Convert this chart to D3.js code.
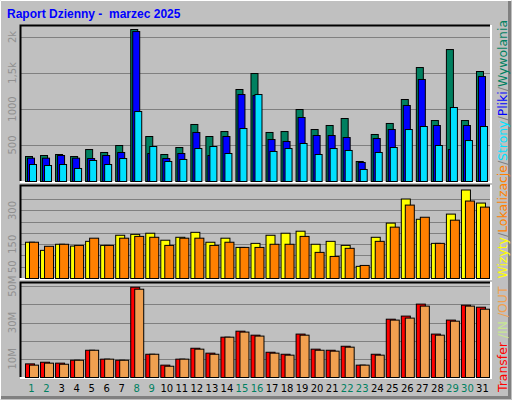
<!DOCTYPE html>
<html><head><meta charset="utf-8">
<script src="https://cdn.jsdelivr.net/npm/d3@7"></script>
<style>body{margin:0;background:#fff}svg{display:block}</style>
</head><body>
<svg id="c" width="512" height="400"></svg>
<script>
const days = d3.range(1, 32);
const weekend = [1,2,8,9,15,16,22,23,29,30];
const hits  = [347,361,375,347,444,403,500,2111,625,375,472,792,625,694,1278,1500,681,694,1000,722,778,875,278,653,806,1139,1583,847,1833,847,1528];
const files = [324,324,361,324,319,361,403,2083,389,319,389,681,361,625,1208,1194,583,556,889,639,639,611,264,597,722,1056,1417,778,444,778,1458];
const pages = [236,222,236,181,292,236,319,972,486,278,306,458,486,389,736,1208,417,458,528,375,458,431,167,403,472,722,764,500,1028,569,764];
const visits= [161,125,152,144,165,147,192,196,201,170,183,205,161,179,138,156,192,201,210,152,165,147,54,183,246,353,263,156,286,393,335];
const sites = [161,143,152,147,179,147,179,187,183,147,179,179,147,161,138,138,152,152,187,116,98,134,58,165,228,326,272,156,259,344,317];
const kIn   = [7.5,8.4,7.9,9.5,15.0,10.1,9.5,49.7,12.8,6.8,10.1,16.1,13.4,22.2,25.5,23.3,13.9,12.8,23.9,15.6,15.0,17.2,6.8,12.8,32.1,33.8,40.4,23.9,31.6,39.8,38.7];
const kOut  = [6.8,7.9,7.3,9.5,15.0,10.1,9.5,48.6,12.8,6.2,10.1,15.6,12.8,22.2,25.0,22.8,13.4,12.3,23.3,15.0,14.5,16.7,6.8,12.3,31.6,32.7,39.3,23.3,31.0,39.3,37.6];
const topTicks = [[500,"500"],[1000,"1000"],[1500,"1,5k"],[2000,"2k"]];
const midTicks = [[50,"50"],[150,"150"],[300,"300"]];
const botTicks = [[10,"10M"],[30,"30M"],[50,"50M"]];

const svg = d3.select("#c");
svg.append("rect").attr("width",512).attr("height",400).attr("fill","#c0c0c0");
svg.append("path").attr("d","M0.5,399.5V0.5H511.5").attr("stroke","#fff").attr("fill","none");
svg.append("path").attr("d","M1,397.5H509.5V1").attr("stroke","#808080").attr("stroke-width",3).attr("fill","none");
svg.append("text").attr("x",7).attr("y",18).attr("xml:space","preserve").style("white-space","pre").text("Raport Dzienny -  marzec 2025")
  .attr("font-family","Liberation Sans, Arial, sans-serif").attr("font-weight","bold").attr("font-size",12).attr("fill","#0000ff");

const x = d3.scaleBand().domain(days).range([24,490]).paddingInner(0);
const L=20,R=490;
function panel(y0,y1,max,grid,ticks){
  const y = d3.scaleLinear().domain([0,max]).range([y1,y0]);
  svg.append("rect").attr("x",L).attr("y",y0).attr("width",R-L).attr("height",y1-y0).attr("fill","#c0c0c0");
  svg.append("g").selectAll("line").data(grid).join("line")
    .attr("x1",L).attr("x2",R).attr("y1",d=>Math.round(y(d))+0.5).attr("y2",d=>Math.round(y(d))+0.5)
    .attr("stroke","#808080").attr("stroke-width",1.2);
  svg.append("path").attr("d",`M${L+0.5},${y1}V${y0+0.5}H${R}`).attr("stroke","#000").attr("stroke-width",2).attr("fill","none");
  svg.append("path").attr("d",`M${L},${y1+1}H${R+1}V${y0}`).attr("stroke","#fff").attr("stroke-width",2).attr("fill","none");
  svg.append("g").selectAll("text").data(ticks).join("text")
    .attr("transform",d=>`translate(16,${y(d[0])}) rotate(-90)`).attr("text-anchor","middle")
    .attr("font-family","DejaVu Sans, sans-serif").attr("font-size",10).attr("fill","#909090").text(d=>d[1]);
  return y;
}
function bars(y,data,off,w,color){
  svg.append("g").selectAll("rect").data(data).join("rect")
    .attr("x",(d,i)=>x(days[i])+off+0.5).attr("width",w)
    .attr("y",d=>y(d)+0.5).attr("height",d=>y(0)-y(d))
    .attr("fill",color).attr("stroke","#000").attr("stroke-width",1);
}
const yT = panel(25,181,2167,[500,1000,1500,2000],topTicks);
bars(yT,hits,1,7,"#008060"); bars(yT,files,3,7,"#0000ff"); bars(yT,pages,5,7,"#00e0ff");
const yM = panel(185,278,413,[50,100,150,200,250,300,350],midTicks);
bars(yM,visits,1,9,"#ffff00"); bars(yM,sites,5,9,"#ff8000");
const yB = panel(282,377,52.3,[10,20,30,40,50],botTicks);
bars(yB,kIn,1,9,"#ff0000"); bars(yB,kOut,5,9,"#f0a050");

svg.append("g").selectAll("text").data(days).join("text")
  .attr("x",d=>x(d)+x.bandwidth()/2).attr("y",392).attr("text-anchor","middle")
  .attr("font-family","DejaVu Sans, sans-serif").attr("font-size",10)
  .attr("fill",d=>weekend.includes(d)?"#008060":"#000").text(d=>d);

const lab = [["Transfer","#ff0000"],[" /IN","#c8e890"],[" /OUT","#f0a050"],["  Wizyty","#ffff00"],["/","#808080"],["Lokalizacje","#ff8000"],["/","#808080"],["Strony","#00e0ff"],["/","#808080"],["Pliki","#0000ff"],["/","#808080"],["Wywolania","#008060"]];
const t = svg.append("text").attr("transform","translate(507,392) rotate(-90)").style("white-space","pre")
  .attr("font-family","DejaVu Sans, sans-serif").attr("font-size",12.5).attr("textLength",372).attr("lengthAdjust","spacingAndGlyphs").attr("xml:space","preserve");
lab.forEach(([s,c])=>t.append("tspan").attr("fill",c).text(s));
</script>
</body></html>
